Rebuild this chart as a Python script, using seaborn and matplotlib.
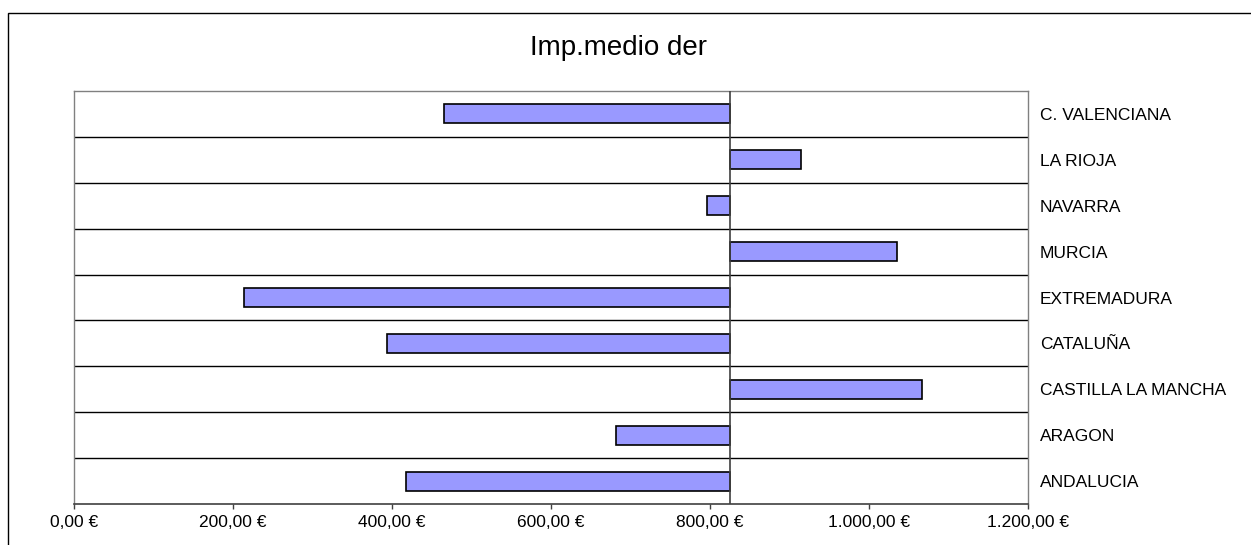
import pandas as pd
import matplotlib.pyplot as plt
import seaborn as sns
from matplotlib.patches import Rectangle

# --- data (top to bottom) ---
regions = ['C. VALENCIANA', 'LA RIOJA', 'NAVARRA', 'MURCIA', 'EXTREMADURA',
           'CATALUÑA', 'CASTILLA LA MANCHA', 'ARAGON', 'ANDALUCIA']
imp_medio = [465, 915, 796, 1036, 214, 393, 1067, 682, 418]
axis_cross = 825  # vertical axis crosses here, bars start from it

x_ticks = [0, 200, 400, 600, 800, 1000, 1200]
x_tick_labels = ['0,00 €', '200,00 €', '400,00 €', '600,00 €',
                 '800,00 €', '1.000,00 €', '1.200,00 €']


def main():
    df = pd.DataFrame({'region': regions, 'imp': imp_medio})
    df['delta'] = df['imp'] - axis_cross

    sns.set_style('white')
    plt.rcParams['font.family'] = ['Liberation Sans', 'DejaVu Sans']
    plt.rcParams['text.color'] = 'black'
    plt.rcParams['xtick.labelcolor'] = 'black'
    plt.rcParams['ytick.labelcolor'] = 'black'

    fig = plt.figure(figsize=(12.51, 5.45), dpi=100)
    W, H = 1251, 545
    ax = fig.add_axes([74.3 / W, 1 - 504.3 / H, (1027.6 - 74.3) / W, (504.3 - 90.7) / H])

    sns.barplot(data=df, x='delta', y='region', order=regions, ax=ax,
                color='#9999FF', saturation=1, width=0.42,
                edgecolor='black', linewidth=1.2, left=axis_cross, zorder=3)

    ax.set_xlim(0, 1200)
    ax.set_ylim(len(regions) - 0.5, -0.5)

    # row separators
    for i in range(len(regions) - 1):
        ax.axhline(i + 0.5, color='black', lw=1, zorder=1)
    ax.axvline(axis_cross, color='#404040', lw=1.2, zorder=4)

    for side in ['left', 'right', 'top']:
        ax.spines[side].set_color('#808080')
        ax.spines[side].set_linewidth(1)
    ax.spines['bottom'].set_color('#404040')
    ax.spines['bottom'].set_linewidth(1.2)

    ax.set_xticks(x_ticks)
    ax.set_xticklabels(x_tick_labels)
    ax.tick_params(axis='x', direction='out', length=3.5, width=1, color='#404040',
                   pad=4, labelsize=12.5, labelcolor='black', bottom=True)

    ax.yaxis.tick_right()
    ax.tick_params(axis='y', length=0, pad=9, labelsize=12.5, labelcolor='black')
    ax.set_xlabel('')
    ax.set_ylabel('')

    fig.text(619 / W, 1 - 48 / H, 'Imp.medio der', ha='center', va='center',
             fontsize=20, color='black')

    # outer chart border (cut off at right/bottom edge)
    fig.add_artist(Rectangle((8 / W, -0.2), 2, 1.2 - 13 / H, transform=fig.transFigure,
                             fill=False, edgecolor='black', lw=1))

    plt.savefig('out.png', dpi=100)


if __name__ == '__main__':
    main()
